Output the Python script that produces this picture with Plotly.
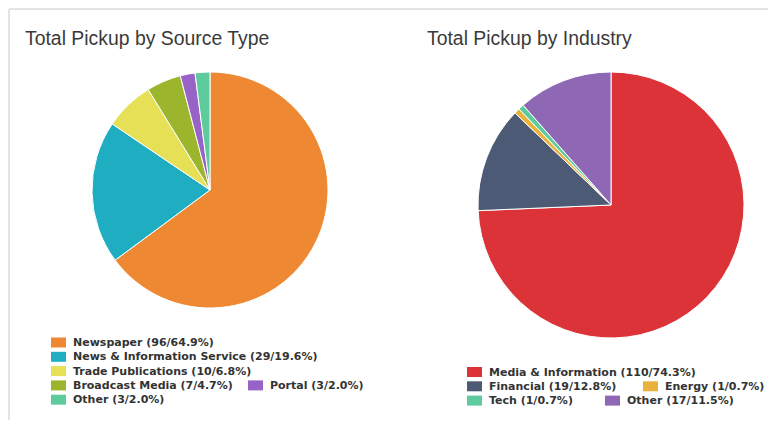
import plotly.graph_objects as go

W, H = 776, 427
# the page body has an 8px default margin; compensate so the chart sits where it should
OFF = 8

# ---------------- data ----------------
src_labels = ["Newspaper", "News & Information Service", "Trade Publications",
              "Broadcast Media", "Portal", "Other"]
src_values = [96, 29, 10, 7, 3, 3]
src_colors = ["#EE8832", "#1FAEC1", "#E5E055", "#9BB62C", "#9763C6", "#5DCB9C"]

ind_labels = ["Media & Information", "Financial", "Energy", "Tech", "Other"]
ind_values = [110, 19, 1, 1, 17]
ind_colors = ["#DC3339", "#4D5A76", "#E8B23B", "#5ECB9F", "#8E67B5"]

titles = ["Total Pickup by Source Type", "Total Pickup by Industry"]

# legend flow layout (row index, x of swatch in px) -- layout only
src_leg_pos = [(0, 51), (1, 51), (2, 51), (3, 51), (3, 248), (4, 51)]
ind_leg_pos = [(0, 467), (1, 467), (1, 643), (2, 467), (2, 605)]


def px(x):
    return (x - OFF) / W


def py(y):
    return 1 - (y - OFF) / H


def pie_domain(cx, cy, r):
    return dict(x=[px(cx - r), px(cx + r)], y=[py(cy + r), py(cy - r)])


fig = go.Figure()
fig.add_trace(go.Pie(
    labels=src_labels, values=src_values, sort=False, direction="clockwise",
    rotation=0, textinfo="none", hoverinfo="label+value+percent",
    marker=dict(colors=src_colors, line=dict(color="white", width=1)),
    domain=pie_domain(210, 190, 118), showlegend=False))
fig.add_trace(go.Pie(
    labels=ind_labels, values=ind_values, sort=False, direction="clockwise",
    rotation=0, textinfo="none", hoverinfo="label+value+percent",
    marker=dict(colors=ind_colors, line=dict(color="white", width=1)),
    domain=pie_domain(611, 205, 133), showlegend=False))

shapes = []
annotations = []

# panel frame lines
shapes.append(dict(type="line", xref="paper", yref="paper",
                   x0=px(9), x1=1, y0=py(9), y1=py(9),
                   line=dict(color="#E4E4E4", width=2)))
shapes.append(dict(type="line", xref="paper", yref="paper",
                   x0=px(9), x1=px(9), y0=py(9), y1=py(420),
                   line=dict(color="#E4E4E4", width=2)))

# titles
for t, x0 in zip(titles, [23, 425]):
    annotations.append(dict(text=t, xref="paper", yref="paper",
                            x=px(x0), y=py(38), xanchor="left", yanchor="middle",
                            showarrow=False,
                            font=dict(family="Liberation Sans, Arial", size=19.4,
                                      color="#3A3A3A")))


def add_legend(labels, values, colors, positions, y_first, step):
    total = sum(values)
    for lab, v, c, (row, sx) in zip(labels, values, colors, positions):
        yc = y_first + row * step
        shapes.append(dict(type="rect", xref="paper", yref="paper",
                           x0=px(sx), x1=px(sx + 15),
                           y0=py(yc + 5), y1=py(yc - 5),
                           fillcolor=c, line=dict(width=0)))
        annotations.append(dict(
            text=f"{lab} ({v}/{v / total * 100:.1f}%)",
            xref="paper", yref="paper", x=px(sx + 20), y=py(yc),
            xanchor="left", yanchor="middle", showarrow=False,
            font=dict(family="DejaVu Sans", size=11, color="#333333",
                      weight="bold")))


add_legend(src_labels, src_values, src_colors, src_leg_pos, 342.5, 14.3)
add_legend(ind_labels, ind_values, ind_colors, ind_leg_pos, 372, 14.3)

fig.update_layout(
    width=W, height=H,
    margin=dict(l=0, r=0, t=0, b=0),
    paper_bgcolor="white", plot_bgcolor="white",
    shapes=shapes, annotations=annotations,
)

fig.write_html("out.html")
